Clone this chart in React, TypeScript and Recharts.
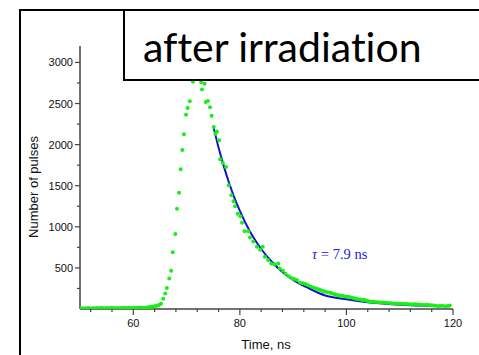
import React from 'react';
import { ComposedChart, Scatter, Line, XAxis, YAxis } from 'recharts';

// measured pulse counts (green dots)
const timeNs = [
  50.0, 50.4, 50.8, 51.2, 51.6, 52.0, 52.4, 52.8, 53.2, 53.6, 54.0, 54.4, 54.8, 55.2, 55.6,
  56.0, 56.4, 56.8, 57.2, 57.6, 58.0, 58.4, 58.8, 59.2, 59.6, 60.0, 60.4, 60.8, 61.2, 61.6,
  62.0, 62.4, 62.8, 63.2, 63.6, 64.0, 64.4, 64.8, 65.2, 65.6, 66.0, 66.3, 66.75, 67.1, 67.4,
  67.9, 68.2, 68.6, 68.9, 69.2, 69.5, 69.9, 70.2, 70.6, 71.2, 71.6, 72.0, 72.4, 72.75, 72.9,
  73.4, 73.6, 74.0, 74.4, 74.7, 75.1, 75.4, 75.7, 76.1, 76.3, 76.8, 77.4, 77.9, 78.4, 78.8,
  79.1, 79.6, 80.1, 80.4, 80.9, 81.6, 81.9, 82.5, 83.2, 83.8, 84.3, 84.7, 85.3, 85.9, 86.5,
  87.2, 87.5, 88.1, 88.6, 89.2, 89.8, 90.2, 90.7, 91.3, 91.8, 92.3, 92.8, 93.3, 93.8, 94.3,
  94.7, 95.1, 95.6, 96.0, 96.5, 97.0, 97.3, 97.8, 98.2, 98.7, 99.0, 99.4, 99.8, 100.3, 100.6,
  101.0, 101.4, 101.8, 102.2, 102.6, 103.0, 103.4, 103.8, 104.2, 104.6, 105.0, 105.5, 106.0, 106.5, 107.0,
  107.5, 108.0, 108.5, 109.0, 109.5, 110.0, 110.5, 111.0, 111.5, 112.0, 112.5, 113.0, 113.5, 114.0, 114.5,
  115.0, 115.5, 116.0, 116.5, 117.0, 117.5, 118.0, 118.5, 119.0, 119.4,
];
const pulseCounts = [
  8, 10, 6, 9, 12, 7, 10, 8, 11, 9, 13, 8, 10, 12, 9,
  14, 10, 12, 9, 13, 11, 15, 12, 14, 10, 16, 13, 15, 18, 16,
  15, 18, 20, 24, 28, 33, 40, 48, 64, 125, 190, 255, 372, 465, 692,
  914, 1220, 1415, 1700, 1934, 2125, 2362, 2447, 2527, 2764, 2900, 2960, 2880, 2760, 2670,
  2740, 2520, 2532, 2456, 2350, 2213, 2133, 2161, 2052, 1821, 1776, 1728, 1505, 1384, 1310,
  1250, 1158, 1129, 1048, 945, 945, 870, 820, 756, 720, 756, 635, 595, 555, 540,
  555, 494, 465, 425, 400, 373, 365, 352, 319, 312, 304, 290, 275, 263, 250,
  240, 231, 220, 210, 205, 198, 190, 180, 170, 165, 160, 158, 152, 148, 142,
  140, 132, 125, 118, 115, 110, 108, 100, 95, 89, 88, 85, 82, 80, 78,
  75, 72, 70, 68, 66, 65, 63, 62, 60, 58, 57, 58, 55, 52, 50,
  52, 48, 46, 44, 38, 36, 40, 34, 38, 42,
];

// exponential fit (blue line)
const fitTimeNs = [75.1, 76, 77, 78, 79, 80, 82, 84, 86, 88, 90, 93, 96, 100, 104, 108, 112, 116.6];
const fitCounts = [2200, 1965, 1735, 1530, 1350, 1195, 930, 730, 575, 450, 355, 250, 165, 118, 82, 60, 45, 36];

const xTicks = [52, 56, 60, 64, 68, 72, 76, 80, 84, 88, 92, 96, 100, 104, 108, 112, 116, 120];
const yTicks = [250, 500, 750, 1000, 1250, 1500, 1750, 2000, 2250, 2500, 2750, 3000];

const points = timeNs.map((t, i) => ({ t, n: pulseCounts[i] }));
const fit = fitTimeNs.map((t, i) => ({ t, n: fitCounts[i] }));

const tickFont = '"Liberation Sans", Arial, sans-serif';

const XTick = (props: any) => {
  const { x, y, payload } = props;
  const major = payload.value % 20 === 0;
  return (
    <g>
      <line x1={x} x2={x} y1={y} y2={y + (major ? 6 : 3)} stroke="#444" strokeWidth={1.2} />
      {major && (
        <text x={x} y={y + 18} textAnchor="middle" fontSize={11} fontFamily={tickFont} fill="#111">
          {payload.value}
        </text>
      )}
    </g>
  );
};

const YTick = (props: any) => {
  const { x, y, payload } = props;
  const major = payload.value % 500 === 0;
  return (
    <g>
      <line x1={x} x2={x - (major ? 5 : 3)} y1={y} y2={y} stroke="#444" strokeWidth={1.2} />
      {major && (
        <text x={x - 7} y={y + 4} textAnchor="end" fontSize={11} fontFamily={tickFont} fill="#111">
          {payload.value}
        </text>
      )}
    </g>
  );
};

const Dot = (props: any) => <circle cx={props.cx} cy={props.cy} r={2} fill="#18ee18" />;

export default function App() {
  return (
    <div style={{ position: 'fixed', left: 0, top: 0, width: 479, height: 355, background: '#fff' }}>
      <ComposedChart width={479} height={355} margin={{ top: 46, right: 26, bottom: 16, left: 20 }}>
        <XAxis
          dataKey="t"
          type="number"
          domain={[50, 120]}
          ticks={xTicks}
          interval={0}
          height={30}
          tickSize={0}
          tickMargin={0}
          tick={<XTick />}
          stroke="#444"
          strokeWidth={1.5}
          allowDataOverflow
        />
        <YAxis
          dataKey="n"
          type="number"
          domain={[0, 3200]}
          ticks={yTicks}
          interval={0}
          width={60}
          tickSize={0}
          tickMargin={0}
          tick={<YTick />}
          stroke="#444"
          strokeWidth={1.5}
          allowDataOverflow
        />
        <Scatter data={points} dataKey="n" shape={<Dot />} isAnimationActive={false} />
        <Line
          data={fit}
          dataKey="n"
          type="monotone"
          stroke="#1414c8"
          strokeWidth={2}
          dot={false}
          isAnimationActive={false}
        />
      </ComposedChart>
      <svg width={479} height={355} style={{ position: 'absolute', left: 0, top: 0, pointerEvents: 'none' }}>
        <text
          transform="translate(38,187) rotate(-90)"
          textAnchor="middle"
          fontSize={13}
          fontFamily={tickFont}
          fill="#111"
        >
          Number of pulses
        </text>
        <text x={266} y={349} textAnchor="middle" fontSize={13} fontFamily={tickFont} fill="#111">
          Time, ns
        </text>
        <text x={312} y={259} fontSize={14.5} fontFamily='"Liberation Serif", "Times New Roman", serif' fill="#2020dd">
          <tspan fontStyle="italic">τ</tspan> = 7.9 ns
        </text>
        <path d="M20 356 V10 H480" fill="none" stroke="#000" strokeWidth={2} />
        <rect x={124} y={10} width={400} height={70} fill="#fff" stroke="#000" strokeWidth={2} />
        <text
          x={143}
          y={62}
          fontSize={41}
          fontFamily="Lato, 'Open Sans', sans-serif"
          fill="#000"
          style={{ fontVariantLigatures: 'none', fontFeatureSettings: '"liga" 0, "clig" 0' }}
        >
          after irradiation
        </text>
      </svg>
    </div>
  );
}
